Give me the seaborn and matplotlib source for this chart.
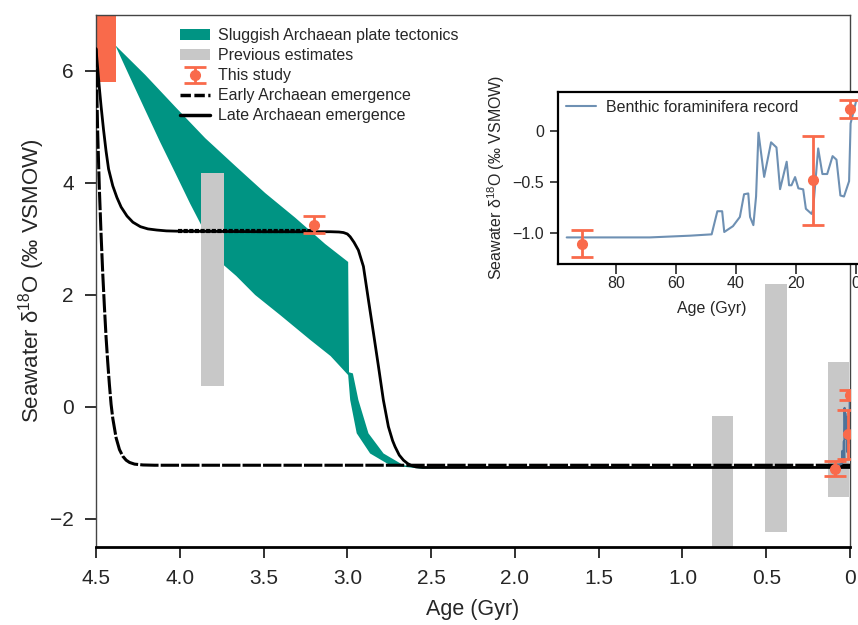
import numpy as np
import pandas as pd
import matplotlib
matplotlib.use("Agg")
import matplotlib.pyplot as plt
import seaborn as sns
from matplotlib.patches import Patch
from matplotlib.lines import Line2D

# ---------------- data ----------------
# Late Archaean emergence (solid)
late_age = [4.50, 4.49, 4.48, 4.47, 4.455, 4.44, 4.425, 4.40, 4.375, 4.35,
            4.315, 4.28, 4.235, 4.19, 4.137, 4.08, 4.017, 3.50, 3.10, 3.05,
            3.023, 3.00, 2.983, 2.96, 2.934, 2.904, 2.874, 2.844, 2.814,
            2.785, 2.755, 2.73, 2.715, 2.69, 2.665, 2.64, 2.615, 2.59, 2.55,
            0.0]
late_val = [6.40, 6.05, 5.70, 5.38, 4.95, 4.57, 4.25, 3.95, 3.74, 3.57,
            3.41, 3.30, 3.22, 3.18, 3.16, 3.145, 3.14, 3.13, 3.13, 3.125,
            3.115, 3.09, 3.04, 2.94, 2.80, 2.51, 1.91, 1.32, 0.72,
            0.125, -0.35, -0.60, -0.71, -0.86, -0.95, -1.01, -1.05, -1.07,
            -1.08, -1.08]
# Early Archaean emergence (dashed)
early_age = [4.50, 4.495, 4.49, 4.48, 4.47, 4.46, 4.45, 4.44, 4.43, 4.42,
             4.41, 4.40, 4.38, 4.36, 4.34, 4.32, 4.30, 4.27, 4.22, 4.15, 0.0]
early_val = [6.40, 5.60, 4.90, 3.90, 3.10, 2.40, 1.80, 1.25, 0.80, 0.40,
             0.05, -0.20, -0.55, -0.76, -0.88, -0.95, -0.99, -1.02, -1.035,
             -1.04, -1.04]
# dotted plateau segment
dot_age = [4.01, 3.21]
dot_val = [3.14, 3.14]

# Sluggish Archaean plate tectonics band
band_up_age = [4.385, 4.206, 4.027, 3.848, 3.663, 3.49, 3.311, 3.132, 2.995,
               2.990, 2.967, 2.934, 2.874, 2.784, 2.665, 2.565, 2.40, 0.0]
band_up_val = [6.46, 5.93, 5.36, 4.80, 4.29, 3.82, 3.38, 2.91, 2.59,
               0.62, 0.60, 0.125, -0.47, -0.83, -1.04, -1.08, -1.08, -1.08]
band_lo_age = [4.385, 4.296, 4.206, 4.117, 4.027, 3.938, 3.848, 3.79, 3.74,
               3.663, 3.55, 3.40, 3.222, 3.10, 2.995, 2.983, 2.944, 2.864,
               2.745, 2.565, 2.40, 0.0]
band_lo_val = [6.46, 5.88, 5.30, 4.73, 4.18, 3.63, 3.11, 2.80, 2.54,
               2.34, 2.00, 1.64, 1.20, 0.91, 0.57, 0.125, -0.47, -0.83,
               -1.04, -1.10, -1.09, -1.09]

# Previous estimates (grey bars): age range and value range
prev_left = [3.874, 0.825, 0.510, 0.130]
prev_right = [3.735, 0.696, 0.377, 0.003]
prev_low = [0.38, -2.60, -2.23, -1.61]
prev_high = [4.18, -0.16, 2.20, 0.81]

# Orange block at 4.4-4.5 Gyr
early_block_age = [4.50, 4.38]
early_block_val = [5.80, 7.20]

# This study (Gyr, value, lower end, upper end)
study_age = [3.20, 0.0912, 0.0142, 0.0020]
study_val = [3.25, -1.10, -0.48, 0.216]
study_lo = [3.11, -1.23, -0.92, 0.124]
study_hi = [3.41, -0.97, -0.046, 0.30]

# Benthic foraminifera record (Myr)
foram_age = [96.4, 68.7, 55.3, 48.1, 46.2, 44.6, 43.9, 41.0, 38.7, 37.3, 35.9,
             35.3, 34.2, 33.3, 32.5, 30.6, 28.3, 26.5, 25.3, 23.1, 22.3, 21.5,
             20.3, 19.2, 17.6, 16.7, 14.8, 14.3, 12.6, 11.2, 9.6, 7.8, 6.5,
             5.2, 4.0, 2.3, 1.8, 1.0, -0.1]
foram_val = [-1.04, -1.04, -1.023, -1.01, -0.784, -0.784, -0.987, -0.93, -0.84,
             -0.618, -0.61, -0.84, -0.92, -0.64, -0.016, -0.448, -0.11, -0.16,
             -0.568, -0.30, -0.53, -0.53, -0.45, -0.56, -0.57, -0.76, -0.81,
             -0.77, -0.17, -0.42, -0.42, -0.245, -0.28, -0.63, -0.64, -0.49,
             0.075, 0.17, 0.30]

main_xticks = [4.5, 4.0, 3.5, 3.0, 2.5, 2.0, 1.5, 1.0, 0.5, 0.0]
main_xticklabels = ["4.5", "4.0", "3.5", "3.0", "2.5", "2.0", "1.5", "1.0", "0.5", "0"]
main_yticks = [-2, 0, 2, 4, 6]
inset_xticks = [80, 60, 40, 20, 0]
inset_yticks = [0, -0.5, -1.0]
inset_yticklabels = ["0", "−0.5", "−1.0"]

# ---------------- style ----------------
TEAL = "#009483"
GREY = "#c8c8c8"
ORANGE = "#f96a4b"
BLUE = "#6e90b3"

sns.set_theme(style="ticks")
plt.rcParams["font.family"] = ["Liberation Sans", "DejaVu Sans"]
plt.rcParams["mathtext.fontset"] = "custom"
plt.rcParams["mathtext.rm"] = "Liberation Sans"
plt.rcParams["mathtext.it"] = "Liberation Sans:italic"
plt.rcParams["axes.unicode_minus"] = True

fig = plt.figure(figsize=(8.58, 6.25), dpi=100)
ax = fig.add_axes([96 / 858, 78 / 625, 754 / 858, 532 / 625])

# band
poly_x = list(band_up_age) + list(band_lo_age[::-1])
poly_y = list(band_up_val) + list(band_lo_val[::-1])
ax.fill(poly_x, poly_y, color=TEAL, lw=0, zorder=1)

# grey bars
for l, r, lo, hi in zip(prev_left, prev_right, prev_low, prev_high):
    ax.bar(l, hi - lo, width=r - l, bottom=lo, align="edge", color=GREY,
           lw=0, zorder=2)

# orange block
ax.bar(early_block_age[0], early_block_val[1] - early_block_val[0],
       width=early_block_age[1] - early_block_age[0], bottom=early_block_val[0],
       align="edge", color=ORANGE, lw=0, zorder=2)

# lines
sns.lineplot(x=late_age, y=late_val, ax=ax, color="black", lw=2.0,
             sort=False, estimator=None, zorder=4)
ax.plot(early_age, early_val, color="black", lw=2.2, ls=(0, (6, 0.7)),
        zorder=4)
ax.plot(dot_age, dot_val, color="black", lw=3.0, ls=(0, (1.0, 0.35)),
        zorder=4)

# foraminifera record in Gyr
ax.plot(np.array(foram_age) / 1000.0, foram_val, color="#4f7399", lw=1.5,
        zorder=5)

# this study
yerr = [np.array(study_val) - np.array(study_lo),
        np.array(study_hi) - np.array(study_val)]
eb = ax.errorbar(study_age, study_val, yerr=yerr, fmt="o", color=ORANGE,
                 ms=7, capsize=8, elinewidth=2, capthick=2, zorder=6)

ax.set_xlim(4.5, 0.0)
ax.set_ylim(-2.5, 7.0)
ax.set_xticks(main_xticks)
ax.set_xticklabels(main_xticklabels)
ax.set_yticks(main_yticks)
ax.tick_params(axis="both", labelsize=15, length=8, width=1.3,
               direction="out", pad=8, color="#222222")
ax.set_xlabel("Age (Gyr)", fontsize=15.5, labelpad=8)
ax.set_ylabel("Seawater δ$\\mathregular{^{18}}$O (‰ VSMOW)", fontsize=16,
              labelpad=2)
for s in ["left", "top", "right"]:
    ax.spines[s].set_linewidth(1.0)
    ax.spines[s].set_color("#444444")
ax.spines["bottom"].set_linewidth(2.0)
ax.spines["bottom"].set_color("black")

handles = [Patch(facecolor=TEAL, edgecolor="none"),
           Patch(facecolor=GREY, edgecolor="none"),
           eb,
           Line2D([], [], color="black", lw=2.5, ls=(0, (3, 1))),
           Line2D([], [], color="black", lw=2.5)]
labels = ["Sluggish Archaean plate tectonics", "Previous estimates",
          "This study", "Early Archaean emergence", "Late Archaean emergence"]
leg = ax.legend(handles, labels, loc="upper left",
                bbox_to_anchor=((180 - 96) / 754, (547 - 28) / 532),
                frameon=False, fontsize=11.5, handlelength=1.9,
                handletextpad=0.5, labelspacing=0.32, borderpad=0,
                borderaxespad=0)

# ---------------- inset ----------------
ins = fig.add_axes([557.7 / 858, (625 - 264) / 625, (865 - 557.7) / 858,
                    (264 - 91.7) / 625])
ins.set_facecolor("white")
sns.lineplot(x=foram_age, y=foram_val, ax=ins, color=BLUE, lw=1.5,
             sort=False, estimator=None, label="Benthic foraminifera record",
             zorder=2)
ins.errorbar([a * 1000 for a in study_age[1:]], study_val[1:],
             yerr=[yerr[0][1:], yerr[1][1:]], fmt="o", color=ORANGE, ms=7,
             capsize=8, elinewidth=2, capthick=2, zorder=3, clip_on=False)
ins.set_xlim(99.4, -3.0)
ins.set_ylim(-1.30, 0.385)
ins.set_xticks(inset_xticks)
ins.set_yticks(inset_yticks)
ins.set_yticklabels(inset_yticklabels)
ins.tick_params(axis="both", labelsize=11.5, length=6, width=1.2,
                direction="out", pad=4)
ins.tick_params(axis="x", length=7, pad=2)
ins.set_xlabel("Age (Gyr)", fontsize=11.5, labelpad=7)
ins.set_ylabel("Seawater δ$\\mathregular{^{18}}$O (‰ VSMOW)", fontsize=11.5,
               labelpad=4)
for s in ins.spines.values():
    s.set_linewidth(1.6)
    s.set_color("black")
ins.legend(loc="upper left", frameon=False, fontsize=11.5, handlelength=1.9,
           handletextpad=0.6, borderpad=0.3, borderaxespad=0.2)

fig.savefig("out.png", dpi=100)
